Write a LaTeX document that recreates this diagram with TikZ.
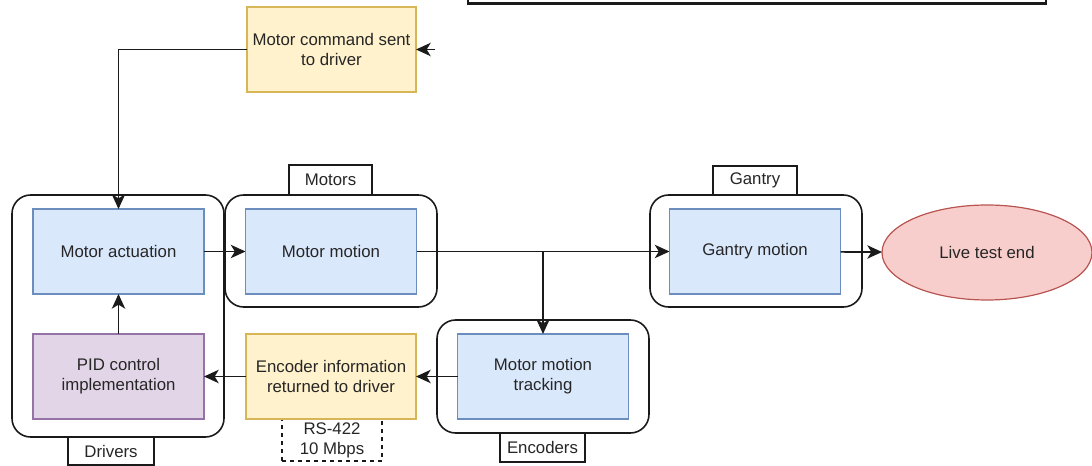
\documentclass[tikz,border=0pt]{standalone}
\usepackage{fontspec}
\setmainfont{Liberation Sans}
\usetikzlibrary{arrows.meta,shapes.geometric,calc}

\definecolor{bluefill}{HTML}{DAE8FC}
\definecolor{bluedraw}{HTML}{6C8EBF}
\definecolor{yellowfill}{HTML}{FFF2CC}
\definecolor{yellowdraw}{HTML}{D6B656}
\definecolor{purplefill}{HTML}{E1D5E7}
\definecolor{purpledraw}{HTML}{9673A6}
\definecolor{redfill}{HTML}{F8CECC}
\definecolor{reddraw}{HTML}{B85450}
\definecolor{linecol}{HTML}{1A1A1A}

\tikzset{
  sz/.style 2 args={minimum width=#1*0.75pt, minimum height=#2*0.75pt},
  every node/.style={font=\fontsize{12.6}{15}\selectfont, text=black!85, align=center, inner sep=0pt, outer sep=0pt},
  procbox/.style={draw=bluedraw, fill=bluefill, line width=0.9pt, sz={171}{85}},
  notebox/.style={draw=yellowdraw, fill=yellowfill, line width=0.9pt, sz={170}{85}},
  pidbox/.style={draw=purpledraw, fill=purplefill, line width=0.9pt, sz={171}{85}},
  group/.style={draw=linecol, fill=white, line width=1.2pt, rounded corners=14pt},
  tag/.style={draw=linecol, fill=white, line width=1.1pt},
  endstate/.style={ellipse, draw=reddraw, fill=redfill, line width=0.9pt, sz={210}{95}},
  flowline/.style={draw=linecol, line width=1.3pt, -{Stealth[length=11pt, width=10pt, inset=3pt]}},
}

\begin{document}
\begin{tikzpicture}[x=0.75pt, y=-0.75pt]
  \useasboundingbox (0,0) rectangle (1092,466);

  % bottom edge of the frame at the top
  \draw[linecol, line width=1.6pt] (468,-5) -- (468,3.5) -- (1046,3.5) -- (1046,-5);

  % group outlines
  \node[group, sz={212}{242}] (drivers) at (118,316) {};
  \node[group, sz={212}{112}] (motors) at (331,251) {};
  \node[group, sz={212}{112}] (gantry) at (756,251) {};
  \node[group, sz={212}{113}] (encoders) at (543,376.5) {};

  % group tags
  \node[tag, sz={83}{30}] (motorstag) at (330.5,180) {Motors};
  \node[tag, sz={84}{29}] (gantrytag) at (755,180.5) {Gantry};
  \node[tag, sz={86}{28}] (driverstag) at (111,451) {Drivers};
  \node[tag, sz={85}{29}] (encoderstag) at (542.5,447.5) {Encoders};

  % link note under the encoder box
  \node[draw=linecol, dashed, line width=0.9pt, fill=white, sz={100}{42}] (rs) at (332,440) {RS-422\\10 Mbps};

  % process steps
  \node[notebox, sz={169}{85}] (cmd) at (331.5,49.5) {Motor command sent\\to driver};
  \node[procbox] (act) at (118.5,251.5) {Motor actuation};
  \node[procbox] (mot) at (331,251.5) {Motor motion};
  \node[procbox] (gan) at (755,251.5) {Gantry motion};
  \node[pidbox] (pid) at (118.5,376.5) {PID control\\implementation};
  \node[notebox] (enc) at (331,376.5) {Encoder information\\returned to driver};
  \node[procbox] (trk) at (543,376.5) {Motor motion\\tracking};
  \node[endstate] (end) at (987,252.5) {Live test end};

  % connectors
  \coordinate (cmdin) at (435,49.5);
  \draw[flowline] (cmdin) -- (cmd.east);
  \draw[flowline] (cmd.west) -| (act.north);
  \draw[flowline] (act) -- (mot);
  \draw[flowline] (mot.east) -- (gan.west);
  \draw[flowline] (mot.east -| trk.north) -- (trk.north);
  \draw[flowline] (gan) -- (end);
  \draw[flowline] (trk) -- (enc);
  \draw[flowline] (enc) -- (pid);
  \draw[flowline] (pid) -- (act);
\end{tikzpicture}
\end{document}
